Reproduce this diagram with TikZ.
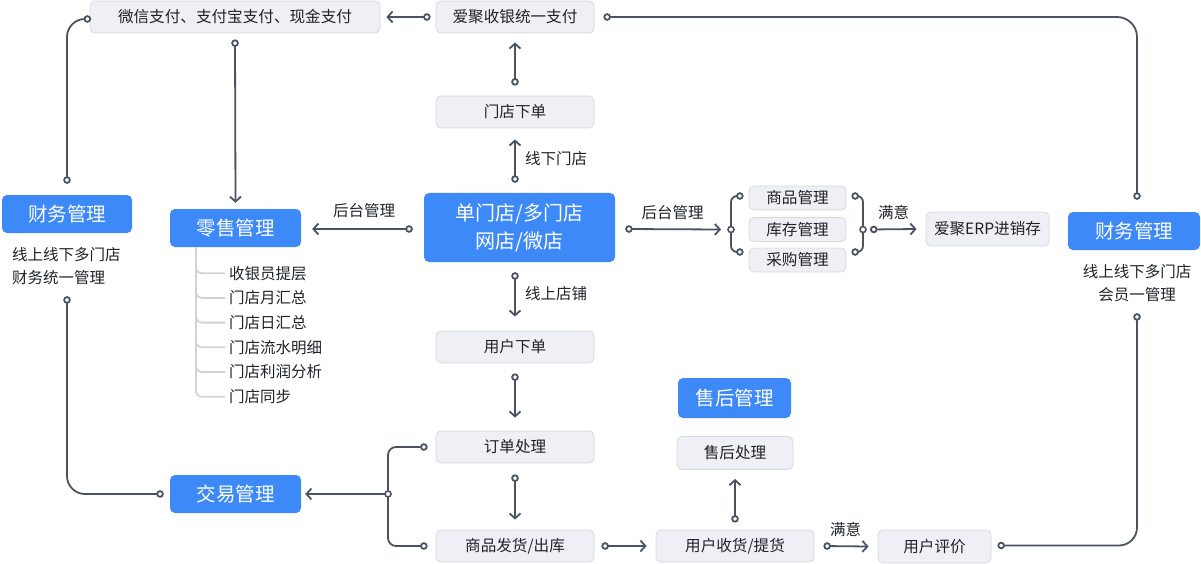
\documentclass[tikz,border=0pt]{standalone}
\usepackage{fontspec}
\setmainfont{Noto Sans CJK SC}
\usetikzlibrary{arrows.meta,calc}

\definecolor{mainblue}{HTML}{3D89F7}
\definecolor{boxfill}{HTML}{EFF0F5}
\definecolor{boxedge}{HTML}{D7D9DE}
\definecolor{wire}{HTML}{4B5363}
\definecolor{ink}{HTML}{1F2329}
\definecolor{twig}{HTML}{D3D3D3}

\tikzset{
  gbox/.style={draw=boxedge, fill=boxfill, rounded corners=5pt, line width=0.8pt,
    text=ink, font=\fontsize{15.6}{18}\selectfont, minimum height=32pt, inner sep=0pt},
  bbox/.style={fill=mainblue, rounded corners=5pt, text=white,
    font=\fontsize{19.5}{24}\selectfont, minimum height=38pt, minimum width=131pt, inner sep=0pt},
  lbl/.style={text=ink, font=\fontsize{15.5}{18}\selectfont, inner sep=0pt},
  item/.style={text=ink, font=\fontsize{15.5}{18}\selectfont, inner sep=0pt, anchor=west},
  link/.style={draw=wire, line width=1.8pt,
    {Circle[fill=white,length=7.5pt]}-{Straight Barb[length=5pt,width=11pt]}},
  tolink/.style={draw=wire, line width=1.8pt, -{Straight Barb[length=5pt,width=11pt]}},
  bilink/.style={draw=wire, line width=1.8pt, rounded corners=18pt,
    {Circle[fill=white,length=7.5pt]}-{Circle[fill=white,length=7.5pt]}},
  dot/.style={circle, draw=wire, line width=1.6pt, fill=white, inner sep=0pt, minimum size=6pt},
  branch/.style={draw=twig, line width=1.8pt, rounded corners=6pt}
}

\begin{document}
\begin{tikzpicture}[x=1pt,y=-1pt]
  \useasboundingbox (0,0) rectangle (1201,564);

  % payment row
  \node[gbox, minimum width=290pt] (pay) at (235,17) {微信支付、支付宝支付、现金支付};
  \node[gbox, minimum width=158pt] (unipay) at (515,17) {爱聚收银统一支付};
  \node[gbox, minimum width=158pt] (shopord) at (515,112) {门店下单};

  % centre
  \node[bbox, minimum width=191pt, minimum height=69pt, align=center,
    font=\fontsize{20}{28}\selectfont] (store) at (519.5,227.5) {单门店/多门店\\网店/微店};
  \node[bbox] (retail) at (235.5,228) {零售管理};
  \node[bbox, minimum width=130pt] (finL) at (67,214) {财务管理};
  \node[lbl, align=left, anchor=west, font=\fontsize{15.5}{23}\selectfont] (finLnote) at (12,266)
    {线上线下多门店\\财务统一管理};
  \node[bbox, minimum width=132pt] (finR) at (1134,231) {财务管理};
  \node[lbl, align=center, font=\fontsize{15.5}{23}\selectfont] (finRnote) at (1137,283)
    {线上线下多门店\\会员一管理};

  % stock group
  \node[gbox, minimum width=97pt, minimum height=24pt] (goods) at (797.5,198) {商品管理};
  \node[gbox, minimum width=97pt, minimum height=24pt] (stock) at (797.5,229.5) {库存管理};
  \node[gbox, minimum width=97pt, minimum height=24pt] (buy) at (797.5,260) {采购管理};
  \node[gbox, minimum width=123pt, minimum height=34pt] (erp) at (987.5,229) {爱聚ERP进销存};

  % online orders
  \node[gbox, minimum width=158pt] (userord) at (515,347) {用户下单};
  \node[gbox, minimum width=158pt] (proc) at (515,447) {订单处理};
  \node[gbox, minimum width=158pt] (ship) at (515,546) {商品发货/出库};
  \node[gbox, minimum width=158pt] (recv) at (735,546) {用户收货/提货};
  \node[gbox, minimum width=116pt, minimum height=33pt] (after) at (735,453) {售后处理};
  \node[bbox, minimum width=113pt, minimum height=40pt] (aftermgr) at (734.5,398) {售后管理};
  \node[gbox, minimum width=113pt, minimum height=33pt] (review) at (934.5,546.5) {用户评价};
  \node[bbox] (trade) at (235.5,494) {交易管理};

  % labels
  \node[lbl, anchor=west] (offline) at (525,159) {线下门店};
  \node[lbl, anchor=west] (online) at (525,294) {线上店铺};
  \node[lbl] (backL) at (364,211) {后台管理};
  \node[lbl] (backR) at (672.5,213) {后台管理};
  \node[lbl] (okR) at (893.5,213) {满意};
  \node[lbl] (okB) at (845.5,530) {满意};

  % retail list
  \foreach \name [count=\i] in {收银员提层,门店月汇总,门店日汇总,门店流水明细,门店利润分析,门店同步} {
    \node[item] (sub\i) at (229,248.5+24.7*\i) {\name};
    \draw[branch] ($(retail.south)+(-39.5,0)$) |- ($(sub\i.west)+(-4,0)$);
  }

  % arrows
  \draw[link] ($(unipay.west)+(-5,0)$) -- ($(pay.east)+(6,0)$);
  \draw[link] ($(shopord.north)+(0,-10)$) -- ($(unipay.south)+(0,9)$);
  \draw[link] ($(store.north -| shopord.south)+(0,-10)$) -- ($(shopord.south)+(0,11)$);
  \draw[link] ($(store.west)+(-11,1.5)$) -- ($(retail.east)+(11,1)$);
  \draw[link] ($(pay.south)+(0,6)$) -- ($(retail.north)+(0,-6)$);
  \draw[link] ($(store.south -| userord.north)+(0,10)$) -- ($(userord.north)+(0,-14)$);
  \draw[link] ($(userord.south)+(0,10)$) -- ($(proc.north)+(0,-13)$);
  \draw[link] ($(proc.south)+(0,11)$) -- ($(ship.north)+(0,-10)$);
  \draw[link] ($(ship.east)+(7,0)$) -- ($(recv.west)+(-9,0)$);
  \draw[link] ($(recv.north)+(0,-7)$) -- ($(after.south)+(0,9)$);
  \draw[link] ($(recv.east)+(9,0)$) -- ($(review.west)+(-9,0)$);

  % stock brackets
  \coordinate (jl) at (731,229.5);
  \coordinate (jr) at (863,229.5);
  \draw[link] ($(store.east)+(10,1.5)$) -- ($(jl)+(-10,0)$);
  \draw[bilink, rounded corners=6pt] ($(goods.west)+(-5,-2)$) -| (jl) |- ($(buy.west)+(-5,-8)$);
  \draw[bilink, rounded corners=6pt] ($(goods.east)+(5,-2)$) -| (jr) |- ($(buy.east)+(5,-8)$);
  \draw[link] ($(jr)+(7,0)$) -- ($(erp.west)+(-9,0)$);
  \node[dot] at (jl) {};
  \node[dot] at (jr) {};

  % trade bracket
  \coordinate (jt) at (388,494);
  \draw[bilink, rounded corners=8pt] ($(proc.west)+(-8,0)$) -| (jt) |- ($(ship.west)+(-8,0)$);
  \draw[tolink] (jt) -- ($(trade.east)+(4,0)$);
  \node[dot] at (jt) {};

  % finance loops
  \draw[bilink] ($(finL.north)+(0,-11)$) |- ($(pay.west)+(-6,2)$);
  \draw[bilink] ($(finL.south)+(0,63)$) |- ($(trade.west)+(-6,0)$);
  \draw[bilink, rounded corners=20pt] ($(unipay.east)+(9,0)$) -| ($(finR.north)+(3,-12)$);
  \draw[bilink] ($(review.east)+(6,-1)$) -| ($(finR.south)+(3,63)$);
\end{tikzpicture}
\end{document}
